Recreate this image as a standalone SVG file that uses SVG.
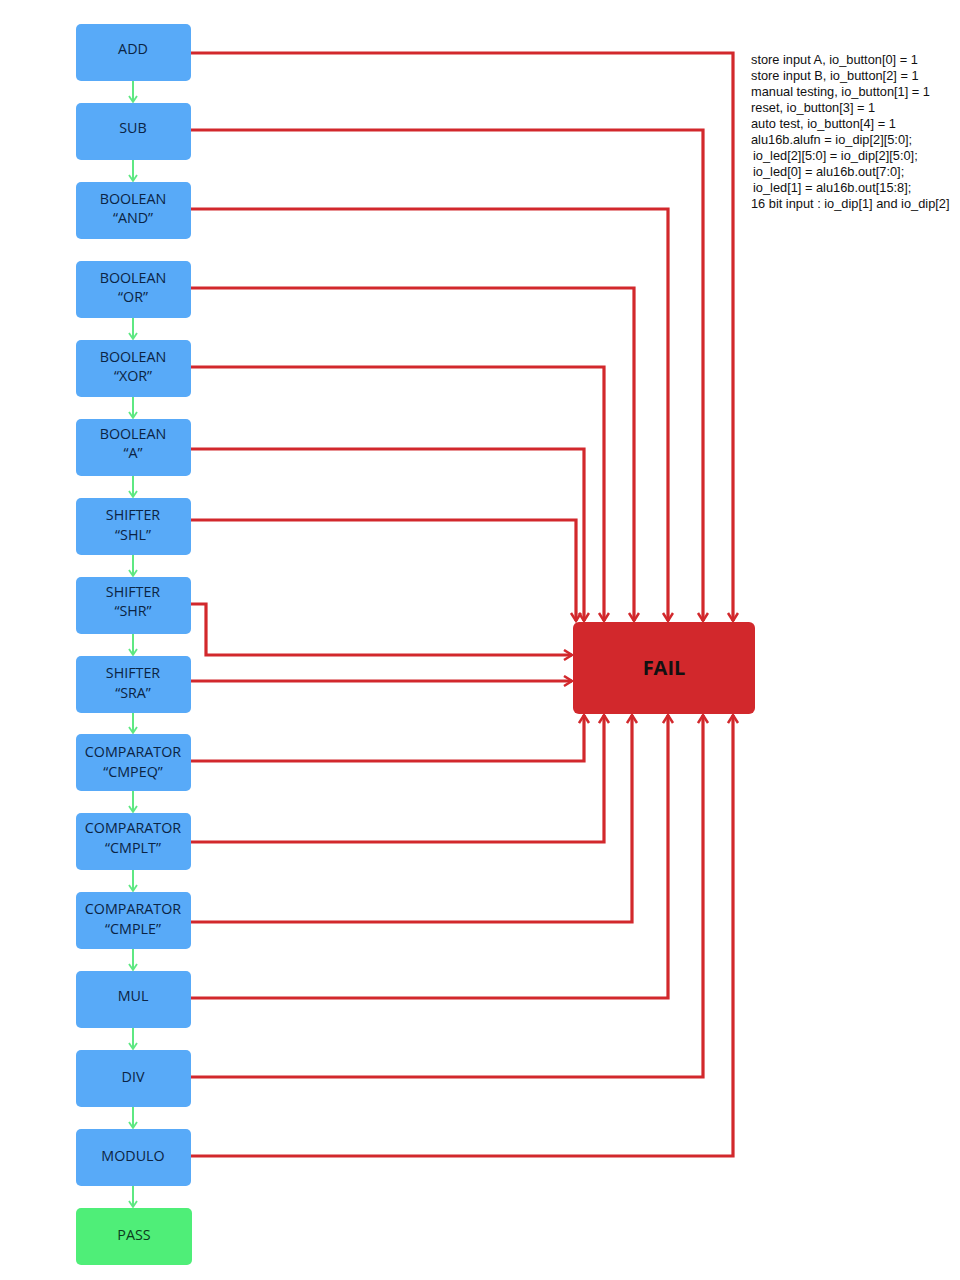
<svg xmlns="http://www.w3.org/2000/svg" width="960" height="1280" viewBox="0 0 960 1280">
<style>
.box{fill:#58aaf8}
.pass{fill:#4fee78}
.lbl{font-family:"Open Sans","Noto Sans",sans-serif;font-size:14.3px;fill:#0b2444;text-anchor:middle}
.plbl{font-family:"Open Sans","Noto Sans",sans-serif;font-size:14.3px;fill:#0b3a1c;text-anchor:middle}
.red{fill:none;stroke:#d2282c;stroke-width:3.2;marker-end:url(#ra)}
.grn{fill:none;stroke:#5ee882;stroke-width:2;marker-end:url(#ga)}
.note{font-family:"Liberation Sans",Arial,sans-serif;font-size:12.8px;fill:#111}
</style>
<defs>
<marker id="ra" markerUnits="userSpaceOnUse" markerWidth="14" markerHeight="14" refX="10" refY="6" orient="auto">
<path d="M2,1 L10,6 L2,11" fill="none" stroke="#d2282c" stroke-width="2.5"/>
</marker>
<marker id="ga" markerUnits="userSpaceOnUse" markerWidth="12" markerHeight="12" refX="8" refY="5" orient="auto">
<path d="M2,1 L8,5 L2,9" fill="none" stroke="#5ee882" stroke-width="1.8"/>
</marker>
</defs>
<rect width="960" height="1280" fill="#fff"/>
<g id="connectors">
<path class="grn" d="M133,81 V102"/>
<path class="grn" d="M133,160 V181"/>
<path class="grn" d="M133,318 V339"/>
<path class="grn" d="M133,397 V418"/>
<path class="grn" d="M133,476 V497"/>
<path class="grn" d="M133,555 V576"/>
<path class="grn" d="M133,634 V655"/>
<path class="grn" d="M133,713 V733"/>
<path class="grn" d="M133,791 V812"/>
<path class="grn" d="M133,870 V891"/>
<path class="grn" d="M133,949 V970"/>
<path class="grn" d="M133,1028 V1049"/>
<path class="grn" d="M133,1107 V1128"/>
<path class="grn" d="M133,1186 V1207"/>
<path class="red" d="M190,53 H733 V621"/>
<path class="red" d="M190,130 H703 V621"/>
<path class="red" d="M190,209 H668 V621"/>
<path class="red" d="M190,288 H634 V621"/>
<path class="red" d="M190,367 H604 V621"/>
<path class="red" d="M190,449 H584 V621"/>
<path class="red" d="M190,520 H576 V621"/>
<path class="red" d="M190,604 H206 V655 H572"/>
<path class="red" d="M190,681 H572"/>
<path class="red" d="M190,761 H584 V715"/>
<path class="red" d="M190,842 H604 V715"/>
<path class="red" d="M190,922 H632 V715"/>
<path class="red" d="M190,998 H668 V715"/>
<path class="red" d="M190,1077 H703 V715"/>
<path class="red" d="M190,1156 H733 V715"/>
</g>
<g id="add"><rect class="box" x="76" y="24" width="115" height="57" rx="5"/><text class="lbl" x="133" y="54">ADD</text></g>
<g id="sub"><rect class="box" x="76" y="103" width="115" height="57" rx="5"/><text class="lbl" x="133" y="133">SUB</text></g>
<g id="and"><rect class="box" x="76" y="182" width="115" height="57" rx="5"/><text class="lbl" x="133" y="204">BOOLEAN</text><text class="lbl" x="133" y="223">“AND”</text></g>
<g id="or"><rect class="box" x="76" y="261" width="115" height="57" rx="5"/><text class="lbl" x="133" y="283">BOOLEAN</text><text class="lbl" x="133" y="302">“OR”</text></g>
<g id="xor"><rect class="box" x="76" y="340" width="115" height="57" rx="5"/><text class="lbl" x="133" y="362">BOOLEAN</text><text class="lbl" x="133" y="381">“XOR”</text></g>
<g id="a"><rect class="box" x="76" y="419" width="115" height="57" rx="5"/><text class="lbl" x="133" y="439">BOOLEAN</text><text class="lbl" x="133" y="458">“A”</text></g>
<g id="shl"><rect class="box" x="76" y="498" width="115" height="57" rx="5"/><text class="lbl" x="133" y="520">SHIFTER</text><text class="lbl" x="133" y="540">“SHL”</text></g>
<g id="shr"><rect class="box" x="76" y="577" width="115" height="57" rx="5"/><text class="lbl" x="133" y="597">SHIFTER</text><text class="lbl" x="133" y="616">“SHR”</text></g>
<g id="sra"><rect class="box" x="76" y="656" width="115" height="57" rx="5"/><text class="lbl" x="133" y="678">SHIFTER</text><text class="lbl" x="133" y="698">“SRA”</text></g>
<g id="cmpeq"><rect class="box" x="76" y="734" width="115" height="57" rx="5"/><text class="lbl" x="133" y="757">COMPARATOR</text><text class="lbl" x="133" y="777">“CMPEQ”</text></g>
<g id="cmplt"><rect class="box" x="76" y="813" width="115" height="57" rx="5"/><text class="lbl" x="133" y="833">COMPARATOR</text><text class="lbl" x="133" y="853">“CMPLT”</text></g>
<g id="cmple"><rect class="box" x="76" y="892" width="115" height="57" rx="5"/><text class="lbl" x="133" y="914">COMPARATOR</text><text class="lbl" x="133" y="934">“CMPLE”</text></g>
<g id="mul"><rect class="box" x="76" y="971" width="115" height="57" rx="5"/><text class="lbl" x="133" y="1001">MUL</text></g>
<g id="div"><rect class="box" x="76" y="1050" width="115" height="57" rx="5"/><text class="lbl" x="133" y="1082">DIV</text></g>
<g id="modulo"><rect class="box" x="76" y="1129" width="115" height="57" rx="5"/><text class="lbl" x="133" y="1161">MODULO</text></g>
<g id="pass"><rect class="pass" x="76" y="1208" width="116" height="57" rx="5"/><text class="plbl" x="134" y="1240">PASS</text></g>
<g id="fail"><rect x="573" y="622" width="182" height="92" rx="6" fill="#d2282c"/><text x="664" y="675" font-family="'Open Sans','Noto Sans',sans-serif" font-size="20" font-weight="bold" fill="#111" text-anchor="middle">FAIL</text></g>
<g id="notes">
<text class="note" x="751" y="64">store input A, io_button[0] = 1</text>
<text class="note" x="751" y="80">store input B, io_button[2] = 1</text>
<text class="note" x="751" y="96">manual testing, io_button[1] = 1</text>
<text class="note" x="751" y="112">reset, io_button[3] = 1</text>
<text class="note" x="751" y="128">auto test, io_button[4] = 1</text>
<text class="note" x="751" y="144">alu16b.alufn = io_dip[2][5:0];</text>
<text class="note" x="753" y="160">io_led[2][5:0] = io_dip[2][5:0];</text>
<text class="note" x="753" y="176">io_led[0] = alu16b.out[7:0];</text>
<text class="note" x="753" y="192">io_led[1] = alu16b.out[15:8];</text>
<text class="note" x="751" y="208">16 bit input : io_dip[1] and io_dip[2]</text>
</g>
</svg>
